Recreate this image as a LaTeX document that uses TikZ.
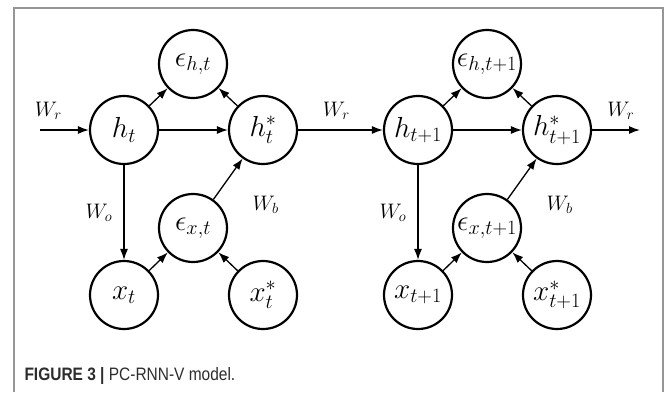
\RequirePackage{fix-cm}
\documentclass[tikz,border=0pt]{standalone}
\usepackage{fontspec}
\usepackage{amssymb}
\usetikzlibrary{positioning,arrows.meta}
\newfontfamily\capfont[FakeStretch=0.86]{Liberation Sans}
\definecolor{framegray}{RGB}{150,150,150}
\definecolor{captext}{RGB}{45,45,45}

\begin{document}
\begin{tikzpicture}[x=1pt,y=1pt]
\tikzstyle{main}=[circle, minimum size = 68pt, inner sep=0pt, line width=2.2pt, draw =black, font=\fontsize{29}{32}\selectfont, on grid]
\tikzstyle{connect}=[-{Latex[length=11pt,width=8pt]}, line width=1.3pt]
\tikzstyle{wlabel}=[font=\fontsize{21}{24}\selectfont, inner sep=2pt]

  \useasboundingbox (0,0) rectangle (670,-392);
  \draw[framegray, line width=1.4pt] (14,-392) -- (14,-8) -- (663,-8) -- (663,-392);

  % step t
  \node[main] (h1) at (124,-130) {$h_t$};
  \node[main] (eh1) [above right=66pt and 69pt of h1] {$\epsilon_{h,t}$};
  \node[main] (hs1) [right=139pt of h1] {$h^*_t$};
  \node[main] (ex1) [below right=98pt and 69pt of h1] {$\epsilon_{x,t}$};
  \node[main] (x1) [below=165pt of h1] {$x_t$};
  \node[main] (xs1) [right=139pt of x1] {$x^*_t$};

  % step t+1
  \node[main] (h2) [right=155pt of hs1] {$h_{t+1}$};
  \node[main] (eh2) [above right=66pt and 69pt of h2] {$\epsilon_{h,t+1}$};
  \node[main] (hs2) [right=139pt of h2] {$h^*_{t+1}$};
  \node[main] (ex2) [below right=98pt and 69pt of h2] {$\epsilon_{x,t+1}$};
  \node[main] (x2) [below=165pt of h2] {$x_{t+1}$};
  \node[main] (xs2) [right=139pt of x2] {$x^*_{t+1}$};

  \coordinate (in) at (40,-130);
  \coordinate (out) at (640,-130);

  \path (in) edge [connect] node[wlabel, pos=0.17, above=8pt] {$W_r$} (h1)
        (h1) edge [connect] (eh1)
        (hs1) edge [connect] (eh1)
        (h1) edge [connect] (hs1)
        (h1) edge [connect] node[wlabel, left=9pt] {$W_o$} (x1)
        (x1) edge [connect] (ex1)
        (xs1) edge [connect] (ex1)
        (ex1) edge [connect] node[wlabel, below right=14pt and 22pt] {$W_b$} (hs1)
        (hs1) edge [connect] node[wlabel, pos=0.45, above=8pt] {$W_r$} (h2);
  \path (h2) edge [connect] (eh2)
        (hs2) edge [connect] (eh2)
        (h2) edge [connect] (hs2)
        (h2) edge [connect] node[wlabel, left=9pt] {$W_o$} (x2)
        (x2) edge [connect] (ex2)
        (xs2) edge [connect] (ex2)
        (ex2) edge [connect] node[wlabel, below right=14pt and 22pt] {$W_b$} (hs2)
        (hs2) edge [connect] node[wlabel, pos=0.6, above=8pt] {$W_r$} (out);

  \node[anchor=base west, text=captext, font=\capfont\fontsize{18}{21}\selectfont] (cap) at (21,-380) {\textbf{FIGURE 3 |} PC-RNN-V model.};
\end{tikzpicture}
\end{document}
